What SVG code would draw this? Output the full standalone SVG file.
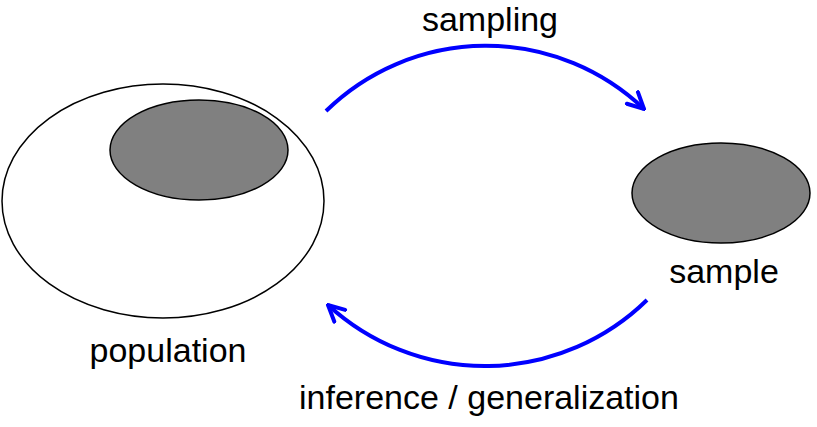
<svg xmlns="http://www.w3.org/2000/svg" width="817" height="427" viewBox="0 0 817 427">
<defs>
<style>
text{font-family:"Liberation Sans",Arial,sans-serif;font-size:34px;fill:#000;text-anchor:middle}
.outer{fill:#fff;stroke:#000;stroke-width:1.5}
.grey{fill:#808080;stroke:#000;stroke-width:1.5}
.arc{fill:none;stroke:#0000ff;stroke-width:4;marker-end:url(#chev)}
</style>
<marker id="chev" viewBox="0 0 10 10" refX="9" refY="5" markerWidth="5" markerHeight="5" orient="auto" markerUnits="strokeWidth">
<path d="M1,1 L9,5 L1,9" fill="none" stroke="#0000ff" stroke-width="2" stroke-linecap="round" stroke-linejoin="miter"/>
</marker>
</defs>
<rect width="817" height="427" fill="#fff"/>
<g id="population">
<ellipse class="outer" cx="163" cy="201" rx="161" ry="117"/>
<ellipse class="grey" cx="199" cy="150" rx="89" ry="50"/>
<text x="168" y="362">population</text>
</g>
<g id="sample">
<ellipse class="grey" cx="721" cy="193" rx="89" ry="50"/>
<text x="724" y="283">sample</text>
</g>
<g id="connectors">
<path class="arc" d="M326,111 A229,229 0 0 1 644,109"/>
<text x="490" y="31">sampling</text>
<path class="arc" d="M647,300 A232,232 0 0 1 328,305"/>
<text x="489" y="409">inference / generalization</text>
</g>
</svg>
